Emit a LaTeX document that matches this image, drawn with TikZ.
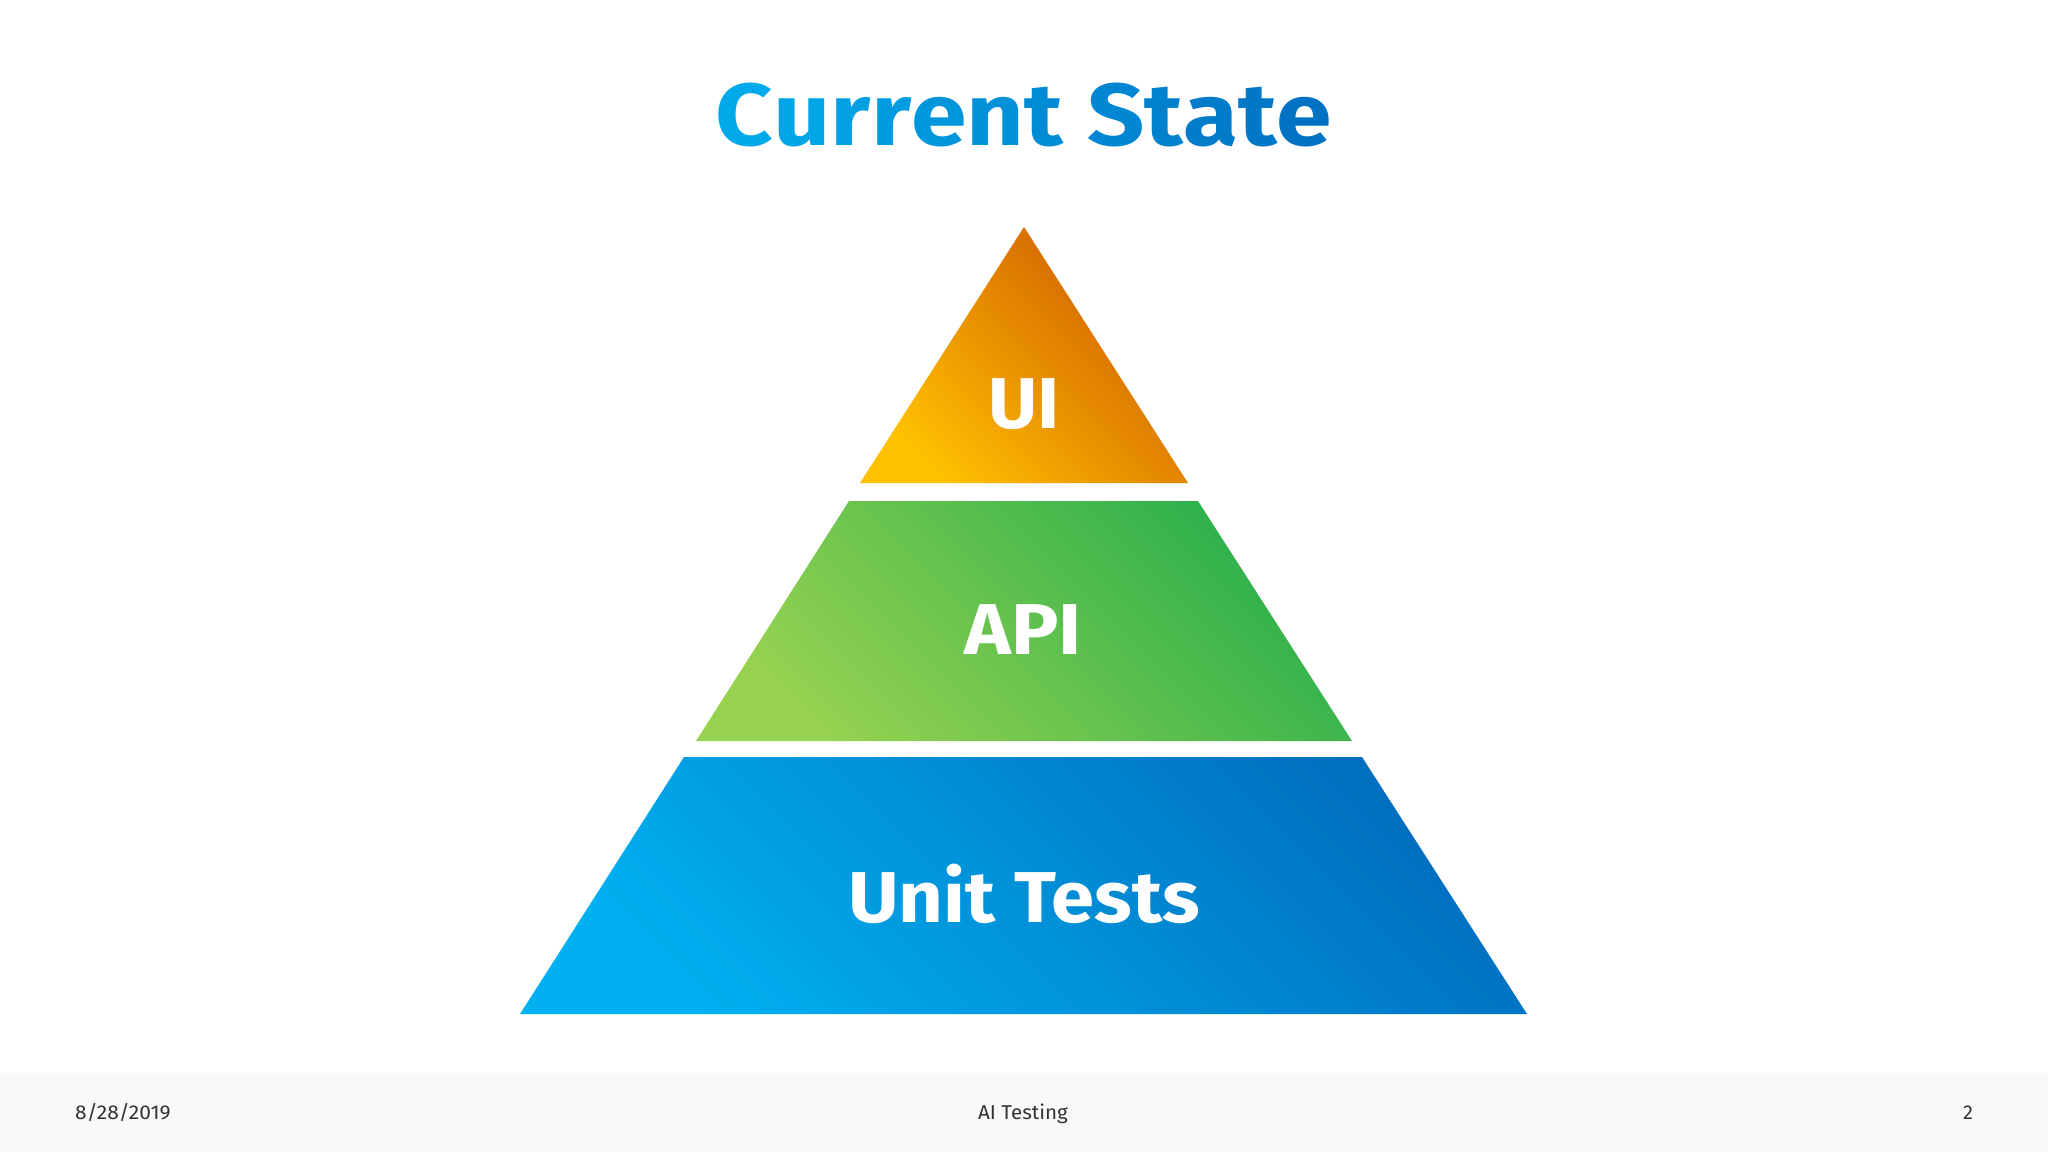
\documentclass[tikz,border=0pt]{standalone}
\usepackage{fontspec}
\setmainfont{Fira Sans}
\newfontfamily\titlefont{Fira Sans}[UprightFont=* Bold]
\definecolor{tl}{HTML}{00AAEA}
\definecolor{tr}{HTML}{0072C4}
\definecolor{uiA}{HTML}{FFC000}
\definecolor{uiB}{HTML}{CF5C00}
\definecolor{apiA}{HTML}{97D250}
\definecolor{apiB}{HTML}{2BB04C}
\definecolor{utA}{HTML}{00B0F0}
\definecolor{utB}{HTML}{006FC0}
\definecolor{footbg}{HTML}{F9F9F9}
\definecolor{foottext}{HTML}{333333}
\tikzset{
  layer/.style={draw=none},
  label/.style={text=white, font=\titlefont\fontsize{72}{72}\selectfont, anchor=base, inner sep=0pt},
  foot/.style={text=foottext, font=\fontsize{20}{20}\selectfont, anchor=base, inner sep=0pt}
}
\begin{document}
\begin{tikzpicture}[x=1pt,y=-1pt]
\fill[white] (0,0) rectangle (2048,1152);
\useasboundingbox (0,0) rectangle (2048,1152);
% footer band
\fill[footbg] (0,1073) rectangle (2048,1152);
% title
\node[anchor=base, inner sep=0pt, font=\titlefont\fontsize{88}{88}\selectfont] (title) at (1024,145)
{\scalebox{1.14}[1]{\textcolor{tl!100!tr}{C}\textcolor{tl!91!tr}{u}\textcolor{tl!82!tr}{r}\textcolor{tl!73!tr}{r}\textcolor{tl!64!tr}{e}\textcolor{tl!55!tr}{n}\textcolor{tl!45!tr}{t} \textcolor{tl!36!tr}{S}\textcolor{tl!27!tr}{t}\textcolor{tl!18!tr}{a}\textcolor{tl!9!tr}{t}\textcolor{tl!0!tr}{e}}};
% pyramid layers
\shade[layer, left color=uiA, right color=uiB, shading angle=135]
  (1024,227) -- (1188,483) -- (860,483) -- cycle;
\shade[layer, left color=apiA, right color=apiB, shading angle=135]
  (849,501) -- (1198,501) -- (1352,741) -- (696,741) -- cycle;
\shade[layer, left color=utA, right color=utB, shading angle=135]
  (684,757) -- (1362,757) -- (1527,1014) -- (520,1014) -- cycle;
% labels
\node[label] (ui) at (1024,428) {\scalebox{1.05}[1]{UI}};
\node[label] (api) at (1023,654) {\scalebox{1.1}[1]{API}};
\node[label] (unit) at (1024,922) {\scalebox{1.08}[1]{Unit Tests}};
% footer texts
\node[foot, anchor=base west] (date) at (75,1119) {\scalebox{1.05}[1]{8/28/2019}};
\node[foot] (footmid) at (1023,1119) {\scalebox{1.03}[1]{AI Testing}};
\node[foot] (page) at (1968,1119) {2};
\end{tikzpicture}
\end{document}
